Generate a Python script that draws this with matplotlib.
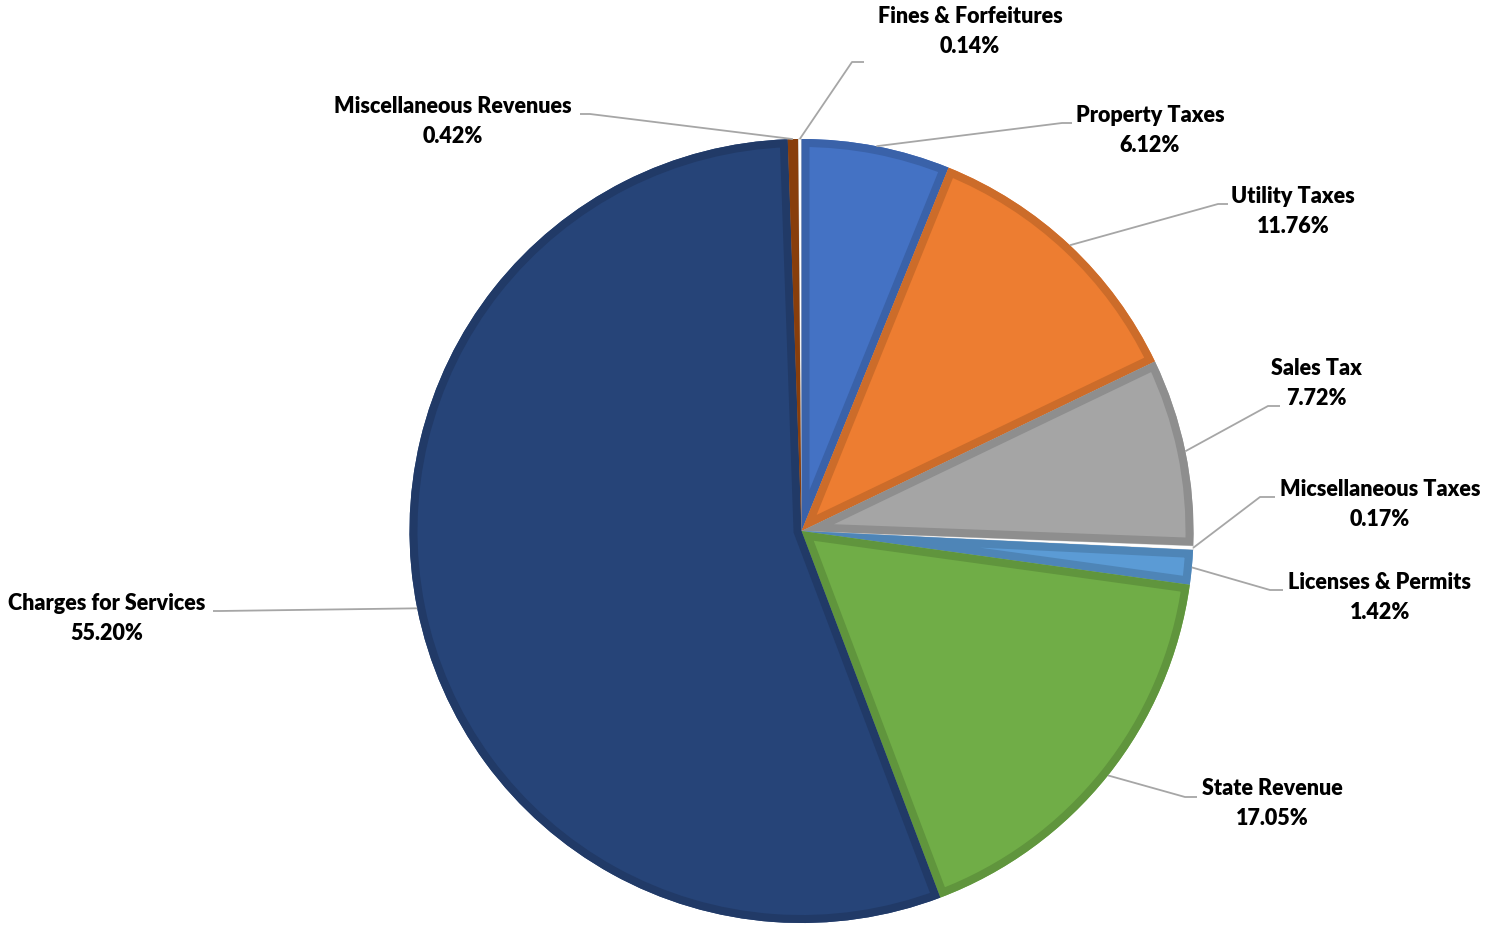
import numpy as np
import matplotlib
matplotlib.use("Agg")
import matplotlib.pyplot as plt
from matplotlib.colors import to_rgb
from matplotlib.patches import Wedge

categories = ["Property Taxes", "Utility Taxes", "Sales Tax", "Micsellaneous Taxes",
              "Licenses & Permits", "State Revenue", "Charges for Services",
              "Miscellaneous Revenues", "Fines & Forfeitures"]
shares = [6.12, 11.76, 7.72, 0.17, 1.42, 17.05, 55.20, 0.42, 0.14]
colors = ["#4472C4", "#ED7D31", "#A5A5A5", "#FFFFFF", "#5B9BD5", "#70AD47",
          "#264478", "#9E480E", "#FFFFFF"]

# label layout in pixel coords: (text x, text y of first line, elbow x, elbow y, end x)
label_pos = {
    "Property Taxes": (1150, 116, 1062, 123, 1072),
    "Utility Taxes": (1293, 197, 1218, 204, 1228),
    "Sales Tax": (1316, 369, 1268, 406, 1280),
    "Micsellaneous Taxes": (1380, 490, 1260, 497, 1275),
    "Licenses & Permits": (1380, 583, 1270, 590, 1283),
    "State Revenue": (1272, 789, 1185, 797, 1197),
    "Charges for Services": (107, 604, 220, 611, 213),
    "Miscellaneous Revenues": (453, 107, 590, 114, 580),
    "Fines & Forfeitures": (970, 17, 852, 62, 864),
}

W, H = 1487, 927
fig = plt.figure(figsize=(W / 100, H / 100), dpi=100)
ax = fig.add_axes([0, 0, 1, 1])

cx, cy, R = 801.5, H - 531, 392


def darker(c, f=0.86):
    r, g, b = to_rgb(c)
    return (r * f, g * f, b * f)


wedges, _ = ax.pie(shares, colors=colors, startangle=90, counterclock=False,
                   center=(cx, cy), radius=R, frame=True,
                   wedgeprops=dict(linewidth=0))
for w, c in zip(wedges, colors):
    if c == "#FFFFFF":
        w.set_edgecolor("#D0D0D0")
        w.set_linewidth(0.6)
        continue
    # inner border: stroke clipped to the slice itself
    border = Wedge(w.center, w.r, w.theta1, w.theta2, facecolor="none",
                   edgecolor=darker(c), linewidth=11.5, joinstyle="miter")
    ax.add_patch(border)
    border.set_clip_path(w)
ax.set_xlim(0, W)
ax.set_ylim(0, H)
ax.set_aspect("equal")
ax.axis("off")

for w, name, val in zip(wedges, categories, shares):
    ang = np.deg2rad((w.theta1 + w.theta2) / 2)
    px = cx + R * np.cos(ang)
    py = cy + R * np.sin(ang)
    tx, ty, ex, ey, endx = label_pos[name]
    ax.plot([px, ex, endx], [py, H - ey, H - ey], color="#A6A6A6", lw=1.3,
            solid_capstyle="butt", zorder=1)
    ax.text(tx, H - (ty + 14.5), "{}\n{:.2f}%".format(name, val), ha="center",
            va="center", fontsize=15.5, fontweight="heavy", family="Lato",
            linespacing=1.55, color="#000000")

fig.savefig("out.png", dpi=100)
